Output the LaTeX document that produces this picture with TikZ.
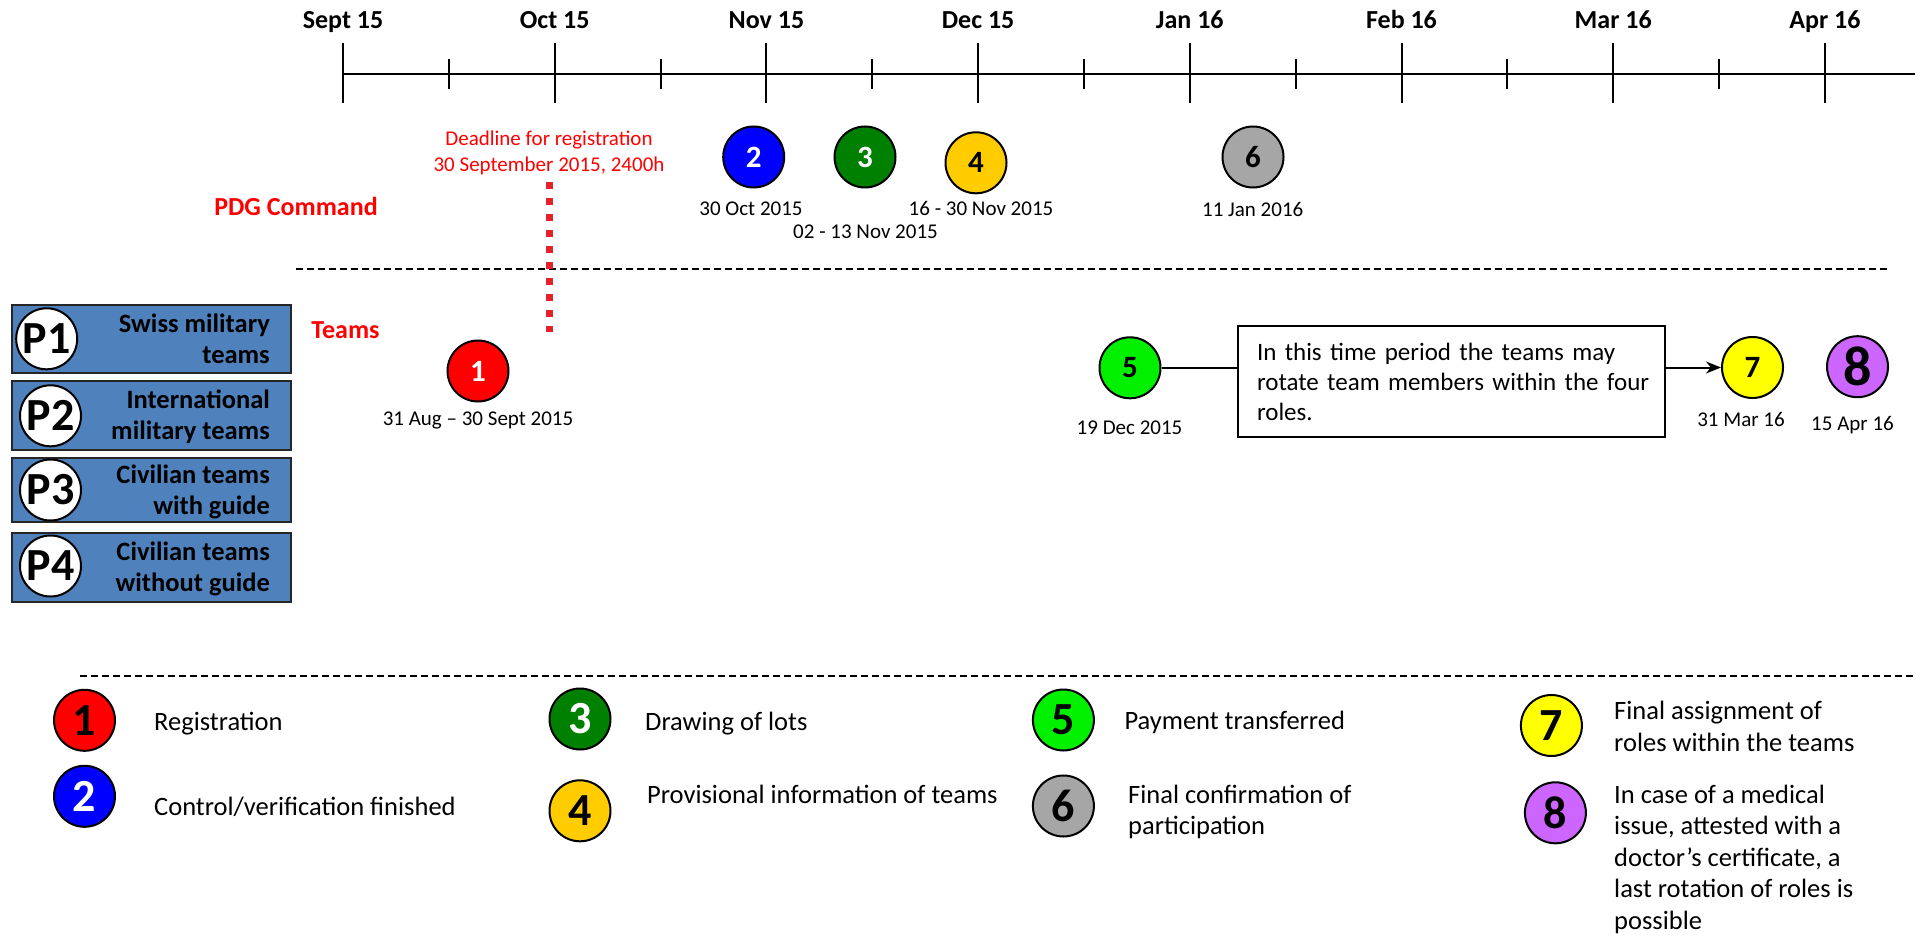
\documentclass[tikz,border=0pt]{standalone}
\usepackage{fontspec}
\setmainfont{Carlito}
\usetikzlibrary{arrows.meta}
\definecolor{cRed}{HTML}{FF0000}
\definecolor{cBlue}{HTML}{0000FF}
\definecolor{cGreen}{HTML}{008000}
\definecolor{cGold}{HTML}{FFCC00}
\definecolor{cLime}{HTML}{00F000}
\definecolor{cGray}{HTML}{A6A6A6}
\definecolor{cYellow}{HTML}{FFFF00}
\definecolor{cPurple}{HTML}{CC66FF}
\definecolor{boxblue}{HTML}{4F81BD}
\definecolor{dotred}{HTML}{E8202A}
\newcommand{\myTop}{\rule{0pt}{25pt}}
\begin{document}
\begin{tikzpicture}[x=1pt,y=-1pt,
  txt/.style={inner sep=0pt},
  axlab/.style={txt, anchor=base, font=\bfseries\fontsize{26}{31}\selectfont},
  dlab/.style={txt, anchor=base, font=\fontsize{21}{25}\selectfont},
  evt/.style={circle, draw=black, line width=2pt, minimum size=61pt, inner sep=0pt, font=\bfseries\fontsize{31}{31}\selectfont},
  legc/.style={evt, font=\bfseries\fontsize{46}{46}\selectfont},
  legt/.style={txt, anchor=north west, align=left, font=\fontsize{26.5}{31.5}\selectfont},
  pbox/.style={rectangle, draw=black!85, line width=2.5pt, fill=boxblue, inner sep=0pt, minimum width=279pt},
  pcirc/.style={circle, draw=black, line width=2pt, fill=white, minimum size=61pt, inner sep=0pt, font=\bfseries\fontsize{46}{46}\selectfont},
  ptxt/.style={txt, anchor=north east, align=right, font=\bfseries\fontsize{26.5}{31.5}\selectfont},
  redlab/.style={txt, anchor=base, text=cRed, font=\bfseries\fontsize{26}{31}\selectfont},
  sep/.style={line width=2pt, dash pattern=on 6.5pt off 4.5pt},
  axline/.style={line width=2pt},
]
\useasboundingbox[fill=white] (0,0) rectangle (1925,936);

% ---- time axis ----
\coordinate (axs) at (343,74);
\coordinate (axe) at (1915,74);
\draw[axline] (axs) -- (axe);
\foreach \i in {0,...,7}{
  \coordinate (mt\i a) at ({343+211.7*\i},43);
  \coordinate (mt\i b) at ({343+211.7*\i},103);
  \draw[axline] (mt\i a) -- (mt\i b);
}
\foreach \i in {0,...,6}{
  \coordinate (nt\i a) at ({343+211.7*\i+105.85},59);
  \coordinate (nt\i b) at ({343+211.7*\i+105.85},89);
  \draw[axline] (nt\i a) -- (nt\i b);
}
\foreach \l [count=\i from 0] in {Sept 15, Oct 15, Nov 15, Dec 15, Jan 16, Feb 16, Mar 16, Apr 16}{
  \node[axlab] (ax\i) at ({343+211.7*\i},29) {\l};
}

% ---- separators ----
\coordinate (s1a) at (296,268.7);
\coordinate (s1b) at (1887,268.7);
\draw[sep] (s1a) -- (s1b);
\coordinate (s2a) at (80,676);
\coordinate (s2b) at (1915,676);
\draw[sep] (s2a) -- (s2b);

% ---- deadline ----
\node[txt, anchor=north, align=center, text=cRed, font=\fontsize{21}{26}\selectfont] (deadline) at (549,120) {\myTop Deadline for registration\\30 September 2015, 2400h};
\coordinate (dla) at (549,182);
\coordinate (dlb) at (549,332);
\draw[dotred, line width=7pt, dash pattern=on 7pt off 9pt] (dla) -- (dlb);

\node[redlab] (pdg) at (296,216) {PDG Command};
\node[redlab] (teams) at (345.5,338) {Teams};

% ---- P boxes ----
\node[pbox, minimum height=68pt] (b1) at (151.5,339) {};
\node[pbox, minimum height=69pt] (b2) at (151.5,415.5) {};
\node[pbox, minimum height=64pt] (b3) at (151.5,490) {};
\node[pbox, minimum height=69pt] (b4) at (151.5,567.5) {};
\node[pcirc] (p1) at (46.7,338.8) {P1};
\node[pcirc] (p2) at (50.5,415.8) {P2};
\node[pcirc] (p3) at (50.5,490) {P3};
\node[pcirc] (p4) at (50.5,566) {P4};
\node[ptxt] (bt1) at (270,307) {\myTop Swiss military\\teams};
\node[ptxt] (bt2) at (270,383) {\myTop International\\military teams};
\node[ptxt] (bt3) at (270,458) {\myTop Civilian teams\\with guide};
\node[ptxt] (bt4) at (270,535) {\myTop Civilian teams\\without guide};

% ---- events ----
\node[evt, fill=cRed, text=white] (e1) at (478,371) {1};
\node[evt, fill=cBlue, text=white] (e2) at (753.7,157) {2};
\node[evt, fill=cGreen, text=white] (e3) at (865,157) {3};
\node[evt, fill=cGold] (e4) at (976,162.8) {4};
\node[evt, fill=cLime] (e5) at (1130,367.8) {5};
\node[evt, fill=cGray] (e6) at (1253,157) {6};
\node[evt, fill=cYellow] (e7) at (1752.5,367.5) {7};
\node[evt, fill=cPurple, font=\bfseries\fontsize{56}{56}\selectfont] (e8) at (1857.5,366.7) {8};

\node[dlab] (d1) at (478,425) {31 Aug – 30 Sept 2015};
\node[dlab] (d2) at (751,216) {30 Oct 2015};
\node[dlab] (d3) at (865.5,239) {02 - 13 Nov 2015};
\node[dlab] (d4) at (981,215) {16 - 30 Nov 2015};
\node[dlab] (d5) at (1129.5,434) {19 Dec 2015};
\node[dlab] (d6) at (1252.7,216.7) {11 Jan 2016};
\node[dlab] (d7) at (1741,426.7) {31 Mar 16};
\node[dlab] (d8) at (1852.5,430.7) {15 Apr 16};

% ---- rotation box ----
\node[draw=black, line width=2pt, minimum width=427pt, minimum height=111pt, text width=389pt, inner xsep=19pt, inner ysep=0pt, align=left, font=\fontsize{25}{30}\selectfont] (rbox) at (1451.5,381.5) {\mbox{In this time period the teams may}\\\mbox{rotate team members within the four}\\roles.};
\draw[line width=2pt] (e5) -- (e5 -| rbox.west);
\draw[line width=2pt, -{Stealth[length=15pt, width=12pt]}] (e7 -| rbox.east) -- (e7);

% ---- legend ----
\node[legc, fill=cRed] (l1) at (84.5,720.3) {1};
\node[legc, fill=cBlue, text=white] (l2) at (84.5,796.3) {2};
\node[legc, fill=cGreen, text=white] (l3) at (580,719) {3};
\node[legc, fill=cGold] (l4) at (580,810.8) {4};
\node[legc, fill=cLime] (l5) at (1063.4,720) {5};
\node[legc, fill=cGray] (l6) at (1063.4,806) {6};
\node[legc, fill=cYellow] (l7) at (1551.4,725.5) {7};
\node[legc, fill=cPurple] (l8) at (1555.4,812.8) {8};

\node[legt] (t1) at (154,705) {\myTop Registration};
\node[legt] (t2) at (154,790) {\myTop Control/verification finished};
\node[legt] (t3) at (645,705.5) {\myTop Drawing of lots};
\node[legt] (t4) at (647,778) {\myTop Provisional information of teams};
\node[legt] (t5) at (1124.3,704.5) {\myTop Payment transferred};
\node[legt] (t6) at (1128,778) {\myTop Final confirmation of\\participation};
\node[legt] (t7) at (1614,694.5) {\myTop Final assignment of\\roles within the teams};
\node[legt] (t8) at (1614,778) {\myTop In case of a medical\\issue, attested with a\\doctor’s certificate, a\\last rotation of roles is\\possible};
\end{tikzpicture}
\end{document}
